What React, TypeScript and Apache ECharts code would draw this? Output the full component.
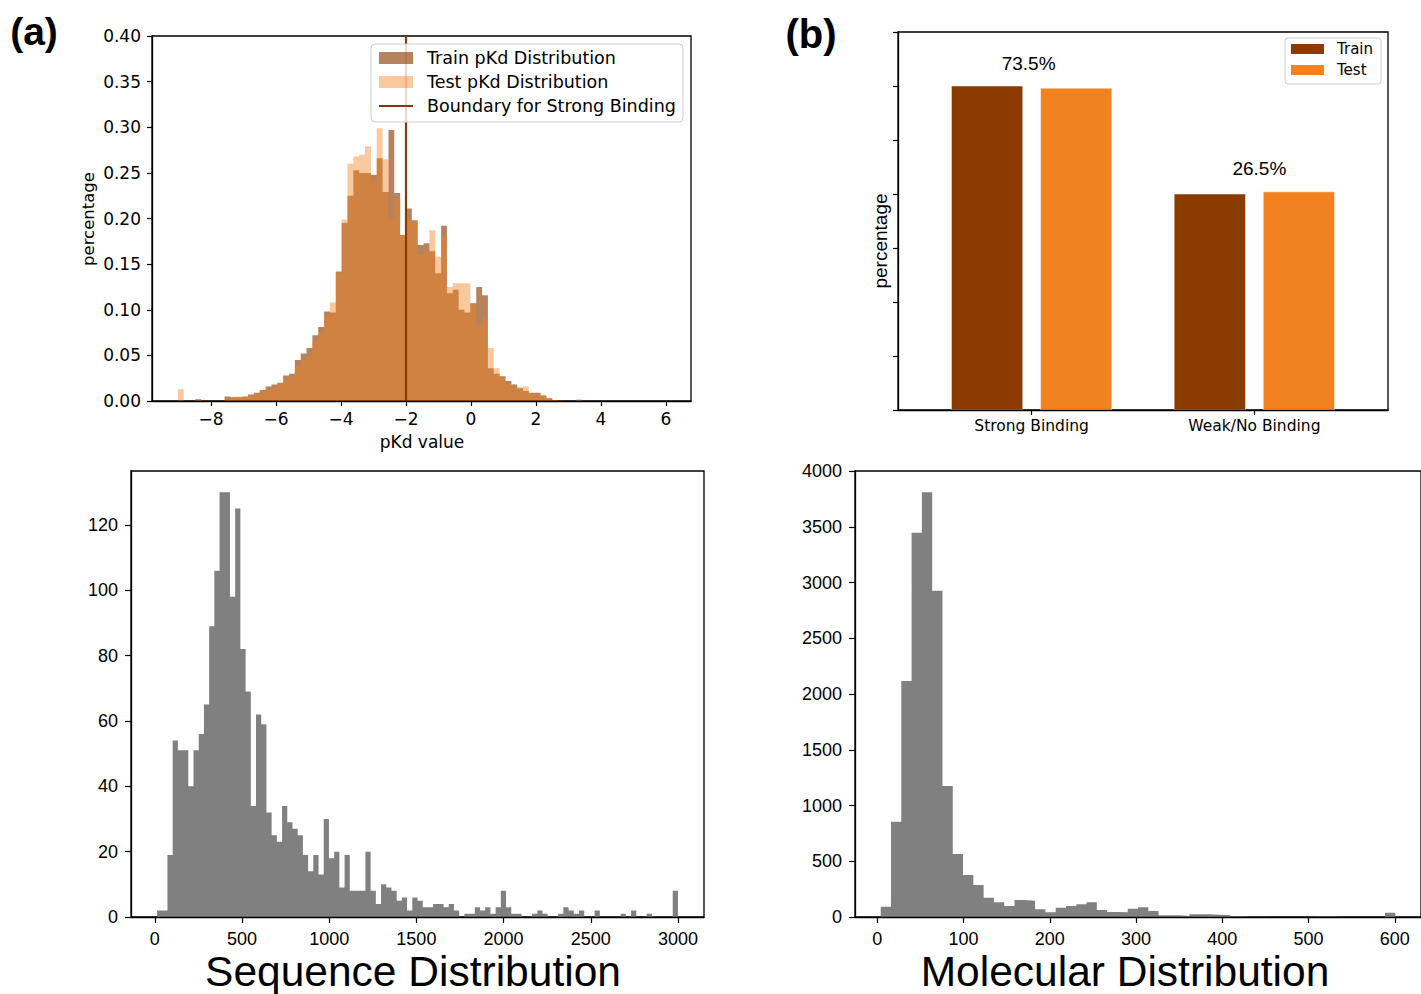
import React, { useEffect, useRef } from "react";
import * as echarts from "echarts";

// ---------- Panel (a): pKd distribution (histogram, fraction per bin) ----------
const PKD_BIN_START = -9.02;
const PKD_BIN_WIDTH = 0.18;
const pkdTrain = [
  0, 0, 0, 0.002, 0.001, 0, 0, 0, 0.005, 0.004,
  0.004, 0.005, 0.007, 0.009, 0.012, 0.016, 0.018, 0.02, 0.028, 0.03,
  0.045, 0.052, 0.058, 0.072, 0.081, 0.098, 0.097, 0.142, 0.195, 0.225,
  0.253, 0.25, 0.25, 0.248, 0.266, 0.229, 0.297, 0.228, 0.182, 0.211,
  0.198, 0.171, 0.173, 0.164, 0.14, 0.192, 0.118, 0.122, 0.1, 0.097,
  0.107, 0.125, 0.116, 0.036, 0.03, 0.027, 0.022, 0.018, 0.014, 0.011,
  0.009, 0.009, 0.006, 0.003, 0.001, 0.001, 0, 0, 0,
];
const pkdTest = [
  0.013, 0, 0, 0.002, 0, 0, 0, 0, 0.002, 0.004,
  0.005, 0.004, 0.006, 0.008, 0.011, 0.013, 0.015, 0.018, 0.024, 0.027,
  0.038, 0.045, 0.05, 0.065, 0.074, 0.094, 0.108, 0.14, 0.199, 0.26,
  0.268, 0.27, 0.279, 0.241, 0.299, 0.265, 0.2, 0.222, 0.182, 0.2,
  0.195, 0.16, 0.164, 0.187, 0.158, 0.18, 0.125, 0.129, 0.129, 0.129,
  0.107, 0.083, 0.092, 0.058, 0.036, 0.026, 0.02, 0.016, 0.015, 0.016,
  0.008, 0.007, 0.006, 0.003, 0.001, 0, 0, 0, 0.002,
];
const PKD_BOUNDARY = -2;
const pkdXTicks = [-8, -6, -4, -2, 0, 2, 4, 6];
const pkdLegend = ["Train pKd Distribution", "Test pKd Distribution", "Boundary for Strong Binding"];

// ---------- Panel (b): binding classes ----------
const bindingCategories = ["Strong Binding", "Weak/No Binding"];
const bindingTrain = [0.6, 0.4];
const bindingTest = [0.596, 0.404];
const bindingLabels = ["73.5%", "26.5%"];
const bindingLegend = ["Train", "Test"];

// ---------- Sequence length histogram ----------
const SEQ_BIN_START = 13;
const SEQ_BIN_WIDTH = 29.87;
const seqCounts = [
  2, 2, 19, 54, 51, 51, 40, 51, 56, 65,
  89, 106, 130, 130, 98, 125, 82, 69, 34, 62,
  59, 32, 25, 23, 34, 29, 27, 25, 19, 14,
  19, 13, 30, 18, 20, 9, 19, 8, 8, 8,
  20, 8, 4, 10, 9, 8, 5, 6, 2, 6,
  5, 3, 3, 4, 4, 3, 4, 2, 0, 1,
  1, 3, 2, 3, 1, 3, 8, 3, 1, 1,
  0, 0, 1, 2, 1, 0, 0, 1, 3, 2,
  1, 2, 0, 0, 2, 0, 0, 0, 0, 1,
  0, 2, 0, 0, 1, 0, 0, 0, 0, 8,
];
const seqXTicks = [0, 500, 1000, 1500, 2000, 2500, 3000];

// ---------- Molecular size histogram ----------
const MOL_BIN_START = 4;
const MOL_BIN_WIDTH = 11.93;
const molCounts = [
  93, 855, 2117, 3447, 3809, 2927, 1175, 565, 377, 287,
  173, 132, 99, 152, 146, 69, 42, 84, 99, 114,
  132, 63, 45, 42, 75, 87, 54, 15, 15, 9,
  24, 24, 21, 15, 6, 3, 2, 1, 0, 0,
  0, 3, 5, 4, 0, 0, 0, 0, 0, 39,
];
const molXTicks = [0, 100, 200, 300, 400, 500, 600];

// ---------- styles ----------
const TRAIN_COLOR = "#8B3A00";
const TEST_COLOR = "#F28220";
const TRAIN_HIST = "rgba(139,58,0,0.63)";
const TEST_HIST = "rgba(242,130,32,0.44)";
const GRAY = "#808080";
const FONT_MPL = '"DejaVu Sans", sans-serif';
const FONT_ARIAL = '"Liberation Sans", Arial, sans-serif';
const INK = "#000";

// histogram drawn as one stepped filled area (bin edges -> heights)
function histSeries(idx: number, start: number, width: number, values: number[], fill: string, name: string) {
  const pts: number[][] = values.map((v, i) => [start + i * width, v]);
  pts.push([start + values.length * width, values[values.length - 1]]);
  return {
    type: "line",
    name,
    xAxisIndex: idx,
    yAxisIndex: idx,
    step: "end",
    symbol: "none",
    showSymbol: false,
    silent: true,
    z: 2,
    lineStyle: { width: 0, opacity: 0 },
    areaStyle: { color: fill, opacity: 1 },
    data: pts,
  };
}

function barSeries(values: number[], offset: number, half: number, fill: string, name: string) {
  return {
    type: "custom",
    name,
    xAxisIndex: 1,
    yAxisIndex: 1,
    z: 2,
    data: values.map((v, i) => [i, v]),
    encode: { x: 0, y: 1 },
    renderItem: (_p: any, api: any) => {
      const x = api.value(0);
      const a = api.coord([x + offset - half, api.value(1)]);
      const b = api.coord([x + offset + half, 0]);
      return {
        type: "rect",
        shape: { x: a[0], y: a[1], width: b[0] - a[0], height: b[1] - a[1] },
        style: { fill, stroke: "rgba(255,255,255,0.6)", lineWidth: 0.8 },
      };
    },
  };
}

const minus = (v: number) => (v < 0 ? "\u2212" + Math.abs(v) : String(v));

function xAxisCfg(idx: number, min: number, max: number, ticks: number[], font: string, size: number, margin: number, tickLen: number, fmt?: (v: number) => string) {
  return {
    type: "value",
    gridIndex: idx,
    min,
    max,
    z: 10,
    splitLine: { show: false },
    axisLine: { show: true, onZero: false, lineStyle: { color: INK, width: 1.3 } },
    axisTick: { show: true, inside: false, length: tickLen, lineStyle: { color: INK, width: 1.2 }, customValues: ticks },
    axisLabel: {
      show: true,
      customValues: ticks,
      formatter: fmt || ((v: number) => String(v)),
      margin,
      color: INK,
      fontFamily: font,
      fontSize: size,
    },
  };
}

function yAxisCfg(idx: number, min: number, max: number, interval: number, font: string, size: number, margin: number, tickLen: number, showLabel: boolean, showMax: boolean, fmt?: (v: number) => string) {
  return {
    type: "value",
    gridIndex: idx,
    min,
    max,
    interval,
    z: 10,
    splitLine: { show: false },
    axisLine: { show: true, onZero: false, lineStyle: { color: INK, width: 1.3 } },
    axisTick: { show: true, inside: false, length: tickLen, lineStyle: { color: INK, width: 1.2 } },
    axisLabel: {
      show: showLabel,
      showMaxLabel: showMax,
      formatter: fmt || ((v: number) => String(v)),
      margin,
      color: INK,
      fontFamily: font,
      fontSize: size,
    },
  };
}

function txt(text: string, x: number, y: number, size: number, family: string, opts: any = {}) {
  return {
    type: "text",
    x,
    y,
    z: 120,
    rotation: opts.rotation || 0,
    style: {
      text,
      fill: INK,
      fontSize: size,
      fontFamily: family,
      fontWeight: opts.weight || "normal",
      align: opts.align || "center",
      verticalAlign: "middle",
      textAlign: opts.align || "center",
      textVerticalAlign: "middle",
    },
  };
}

function buildOption() {
  const gridBase = { show: true, borderColor: INK, borderWidth: 1.3, backgroundColor: "transparent", containLabel: false };
  const seqSpan = SEQ_BIN_WIDTH * seqCounts.length;
  const molSpan = MOL_BIN_WIDTH * molCounts.length;
  return {
    animation: false,
    backgroundColor: "#fff",
    grid: [
      { ...gridBase, left: 152, top: 36, width: 539, height: 365 },
      { ...gridBase, left: 898, top: 32, width: 490, height: 378 },
      { ...gridBase, left: 131, top: 471, width: 573, height: 446 },
      { ...gridBase, left: 855, top: 471, width: 572, height: 446 },
    ],
    xAxis: [
      xAxisCfg(0, -9.815, 6.769, pkdXTicks, FONT_MPL, 17, 9, 5, minus),
      xAxisCfg(1, -0.6, 1.6, [0, 1], FONT_MPL, 15.5, 8, 5, (v: number) => bindingCategories[Math.round(v)] || ""),
      xAxisCfg(2, SEQ_BIN_START - 0.05 * seqSpan, SEQ_BIN_START + 1.05 * seqSpan, seqXTicks, FONT_ARIAL, 18, 13, 6),
      xAxisCfg(3, MOL_BIN_START - 0.05 * molSpan, MOL_BIN_START + 1.05 * molSpan, molXTicks, FONT_ARIAL, 18, 13, 6),
    ],
    yAxis: [
      yAxisCfg(0, 0, 0.4, 0.05, FONT_MPL, 17, 11, 5, true, true, (v: number) => v.toFixed(2)),
      yAxisCfg(1, 0, 0.7, 0.1, FONT_MPL, 15, 8, 5, false, false),
      yAxisCfg(2, 0, 136.5, 20, FONT_ARIAL, 18, 13, 6, true, false),
      yAxisCfg(3, 0, 4000, 500, FONT_ARIAL, 18, 13, 6, true, true),
    ],
    series: [
      histSeries(0, PKD_BIN_START, PKD_BIN_WIDTH, pkdTrain, TRAIN_HIST, pkdLegend[0]),
      histSeries(0, PKD_BIN_START, PKD_BIN_WIDTH, pkdTest, TEST_HIST, pkdLegend[1]),
      {
        type: "line",
        name: pkdLegend[2],
        xAxisIndex: 0,
        yAxisIndex: 0,
        symbol: "none",
        silent: true,
        z: 3,
        lineStyle: { color: TRAIN_COLOR, width: 2.2 },
        data: [[PKD_BOUNDARY, 0], [PKD_BOUNDARY, 0.4]],
      },
      barSeries(bindingTrain, -0.2, 0.16, TRAIN_COLOR, bindingLegend[0]),
      barSeries(bindingTest, 0.2, 0.16, TEST_COLOR, bindingLegend[1]),
      {
        type: "custom",
        xAxisIndex: 1,
        yAxisIndex: 1,
        z: 4,
        data: bindingLabels.map((_t, i) => [i, Math.max(bindingTrain[i], bindingTest[i])]),
        encode: { x: 0, y: 1 },
        renderItem: (p: any, api: any) => {
          const c = api.coord([api.value(0), api.value(1)]);
          return {
            type: "text",
            x: c[0] + (p.dataIndex === 0 ? -3 : 5),
            y: c[1] - 23,
            style: {
              text: bindingLabels[p.dataIndex],
              fill: INK,
              fontSize: 19,
              fontFamily: FONT_ARIAL,
              align: "center",
              verticalAlign: "middle",
              textAlign: "center",
              textVerticalAlign: "middle",
            },
          };
        },
      },
      histSeries(2, SEQ_BIN_START, SEQ_BIN_WIDTH, seqCounts, GRAY, "Sequence"),
      histSeries(3, MOL_BIN_START, MOL_BIN_WIDTH, molCounts, GRAY, "Molecular"),
    ],
    graphic: [
      txt("(a)", 34, 31, 39, FONT_ARIAL, { weight: "bold" }),
      txt("(b)", 811, 34, 40, FONT_ARIAL, { weight: "bold" }),
      txt("percentage", 88, 219, 16.5, FONT_MPL, { rotation: Math.PI / 2 }),
      txt("pKd value", 422, 442, 17, FONT_MPL),
      txt("percentage", 880, 241, 19, FONT_ARIAL, { rotation: Math.PI / 2 }),
      txt("Sequence Distribution", 413, 971, 42.5, FONT_ARIAL),
      txt("Molecular Distribution", 1125, 971, 42.5, FONT_ARIAL),
      // legend (a)
      {
        type: "rect",
        z: 110,
        shape: { x: 371, y: 44, width: 312, height: 78, r: 4 },
        style: { fill: "rgba(255,255,255,0.8)", stroke: "#cccccc", lineWidth: 1 },
      },
      { type: "rect", z: 111, shape: { x: 379, y: 52, width: 34, height: 12 }, style: { fill: TRAIN_HIST } },
      { type: "rect", z: 111, shape: { x: 379, y: 76, width: 34, height: 12 }, style: { fill: TEST_HIST } },
      { type: "line", z: 111, shape: { x1: 379, y1: 106, x2: 413, y2: 106 }, style: { stroke: TRAIN_COLOR, lineWidth: 2.2 } },
      txt(pkdLegend[0], 427, 58, 17.5, FONT_MPL, { align: "left" }),
      txt(pkdLegend[1], 427, 82, 17.5, FONT_MPL, { align: "left" }),
      txt(pkdLegend[2], 427, 106, 17.5, FONT_MPL, { align: "left" }),
      // legend (b)
      {
        type: "rect",
        z: 110,
        shape: { x: 1285, y: 38, width: 96, height: 46, r: 3 },
        style: { fill: "rgba(255,255,255,0.8)", stroke: "#cccccc", lineWidth: 1 },
      },
      { type: "rect", z: 111, shape: { x: 1291, y: 44, width: 33, height: 10 }, style: { fill: TRAIN_COLOR } },
      { type: "rect", z: 111, shape: { x: 1291, y: 65, width: 33, height: 10 }, style: { fill: TEST_COLOR } },
      txt(bindingLegend[0], 1337, 49, 15, FONT_MPL, { align: "left" }),
      txt(bindingLegend[1], 1337, 70, 15, FONT_MPL, { align: "left" }),
    ],
  };
}

export default function App() {
  const ref = useRef<HTMLDivElement>(null);
  useEffect(() => {
    if (!ref.current) return;
    const chart = echarts.init(ref.current, null, { renderer: "svg" });
    chart.setOption(buildOption() as any);
    return () => chart.dispose();
  }, []);
  return (
    <div
      ref={ref}
      style={{ position: "absolute", left: 0, top: 0, width: 1421, height: 994, background: "#fff", overflow: "hidden" }}
    />
  );
}
